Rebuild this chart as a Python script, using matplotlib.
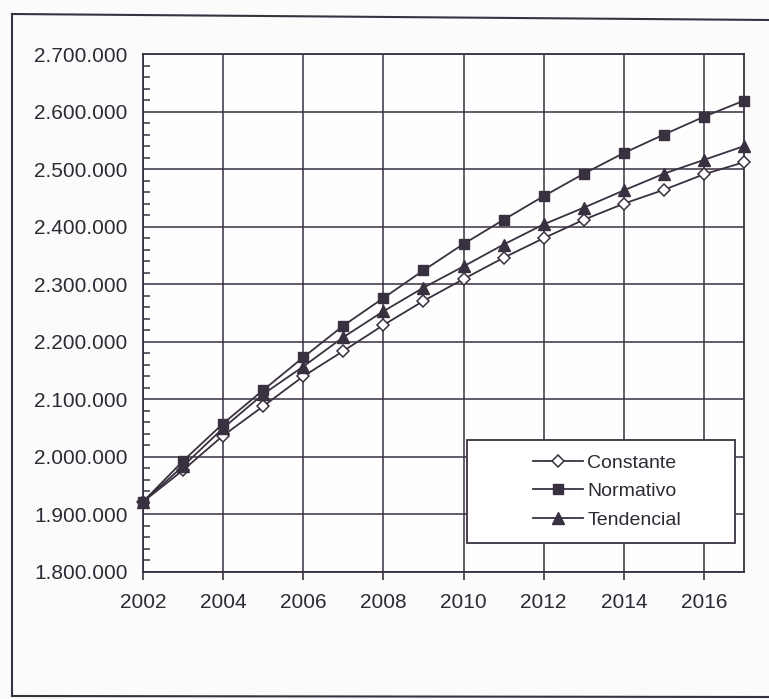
import matplotlib.pyplot as plt
from matplotlib.patches import Rectangle
from matplotlib.lines import Line2D
from matplotlib.ticker import FuncFormatter, MultipleLocator

years = list(range(2002, 2018))
constante = [1922000, 1977000, 2037000, 2088000, 2140000, 2184000, 2229000, 2271000,
             2309000, 2346000, 2380000, 2412000, 2440000, 2464000, 2491000, 2512000]
normativo = [1922000, 1993000, 2058000, 2116000, 2173000, 2228000, 2276000, 2324000,
             2370000, 2412000, 2453000, 2492000, 2528000, 2560000, 2591000, 2619000]
tendencial = [1922000, 1984000, 2050000, 2109000, 2157000, 2208000, 2253000, 2294000,
              2331000, 2369000, 2404000, 2433000, 2463000, 2492000, 2516000, 2540000]
labels = ['Constante', 'Normativo', 'Tendencial']

ink = '#3a3140'
plt.rcParams['font.family'] = ['Liberation Sans', 'DejaVu Sans']

fig = plt.figure(figsize=(7.69, 6.99), dpi=100)
fig.patch.set_facecolor('#fcfbfb')
ax = fig.add_axes([143 / 769, 1 - 572 / 699, 601 / 769, 518 / 699])
ax.set_facecolor('#fefefe')

lc, = ax.plot(years, constante, color=ink, lw=1.3, marker='D', ms=6.5,
              mfc='white', mec=ink, mew=1.1, zorder=4, clip_on=False)
ln, = ax.plot(years, normativo, color=ink, lw=1.3, marker='s', ms=7.5,
              mfc=ink, mec=ink, zorder=4, clip_on=False)
lt, = ax.plot(years, tendencial, color=ink, lw=1.3, marker='^', ms=8,
              mfc=ink, mec=ink, zorder=4, clip_on=False)

ax.set_xlim(2002, 2017)
ax.set_ylim(1800000, 2700000)
ax.set_xticks(range(2002, 2017, 2))
ax.yaxis.set_major_locator(MultipleLocator(100000))
ax.yaxis.set_minor_locator(MultipleLocator(20000))
ax.yaxis.set_major_formatter(FuncFormatter(lambda v, p: f'{int(v):,}'.replace(',', '.')))
ax.grid(True, color=ink, lw=1.1, zorder=1)

for s in ax.spines.values():
    s.set_color(ink)
    s.set_linewidth(1.3)
ax.tick_params(axis='x', direction='out', length=6, width=1.2, color=ink,
               labelsize=15, labelcolor='#2e2a35', pad=9)
ax.tick_params(axis='y', which='major', direction='in', length=0,
               labelsize=15, labelcolor='#2e2a35', pad=11)
ax.tick_params(axis='y', which='minor', direction='in', length=5, width=1.1, color=ink)

# legend box with its own frame
box = Rectangle((0.539, 0.056), 0.446, 0.199, transform=ax.transAxes,
                facecolor='white', edgecolor=ink, lw=1.3, zorder=5)
ax.add_patch(box)
leg = ax.legend([lc, ln, lt], labels, loc='center',
                bbox_to_anchor=(0.539 + 0.446 / 2 + 0.01, 0.056 + 0.199 / 2),
                frameon=False, fontsize=14, handlelength=2.6, handletextpad=0.2,
                labelspacing=0.55, labelcolor='#2e2a35')
leg.set_zorder(6)

# outer page frame from the scan
fig.add_artist(Line2D([12 / 769, 12 / 769], [1 - 14 / 699, 1 - 696 / 699],
                      transform=fig.transFigure, color=ink, lw=1.5))
fig.add_artist(Line2D([12 / 769, 1], [1 - 14 / 699, 1 - 20 / 699],
                      transform=fig.transFigure, color=ink, lw=1.5))
fig.add_artist(Line2D([12 / 769, 1], [1 - 696 / 699, 1 - 697 / 699],
                      transform=fig.transFigure, color=ink, lw=1.5))

fig.savefig('out.png', dpi=100)
